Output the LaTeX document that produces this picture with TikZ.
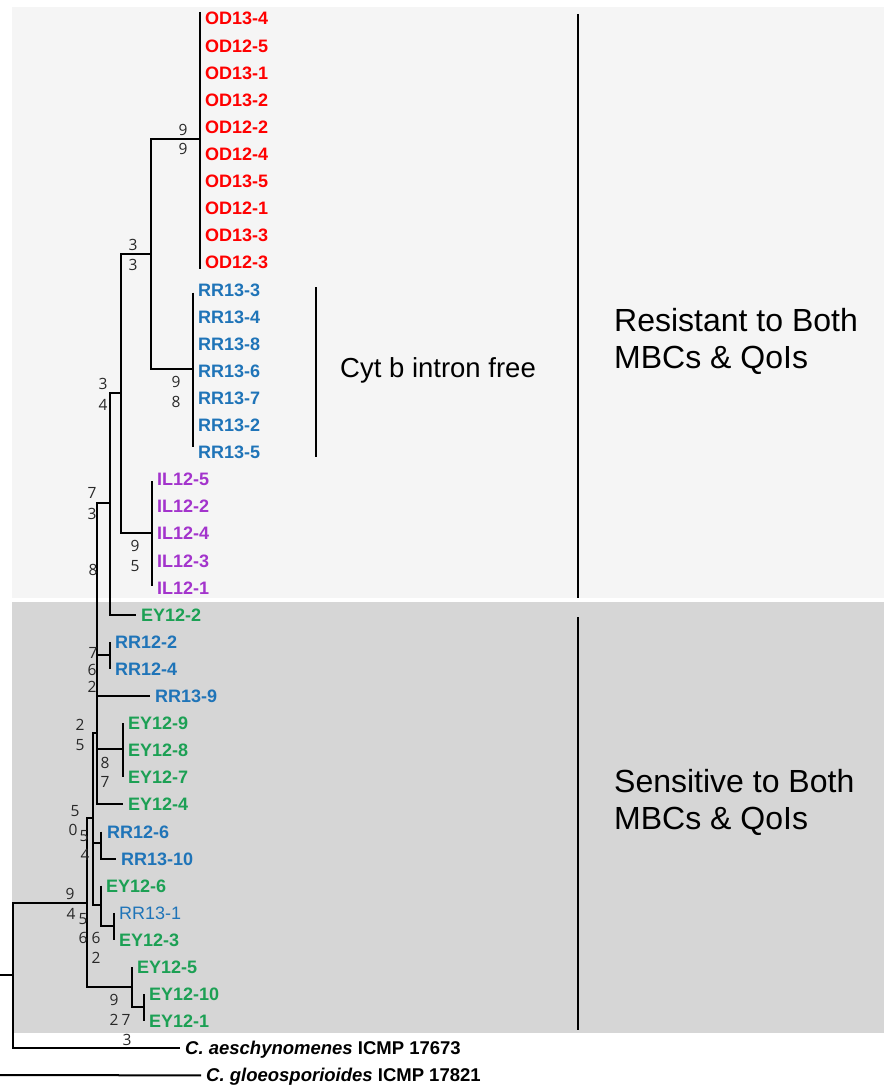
\documentclass[tikz,border=0pt]{standalone}
\usepackage{fontspec}
\setmainfont{Liberation Sans}
\newfontfamily\numfont{Open Sans}
\usepackage{tikz}
\usetikzlibrary{calc}

\definecolor{odred}{RGB}{255,0,0}
\definecolor{rrblue}{RGB}{31,116,184}
\definecolor{ilpurple}{RGB}{163,52,204}
\definecolor{eygreen}{RGB}{28,160,84}
\definecolor{bgtop}{RGB}{245,245,245}
\definecolor{bgbot}{RGB}{214,214,214}
\definecolor{numgray}{RGB}{40,40,40}

\tikzset{
  leaf/.style={anchor=west, inner xsep=5pt, inner ysep=0pt, text height=13pt, text depth=0pt,
    font=\bfseries\fontsize{18}{20}\selectfont},
  num/.style={inner sep=0pt, text=numgray, font=\numfont\fontsize{15.5}{17}\selectfont},
  branch/.style={line width=2pt},
  bar/.style={line width=2.5pt},
  group/.style={anchor=west, inner sep=0pt, align=left, font=\fontsize{32}{37}\selectfont}
}

\begin{document}
\begin{tikzpicture}[x=1pt,y=-1pt]
\useasboundingbox (0,0) rectangle (884,1086);
\fill[bgtop] (12,7) rectangle (884,598);
\fill[bgbot] (12,602) rectangle (884,1033);

% leaves, one row = 27.1
\foreach \n/\r in {OD13-4/0,OD12-5/1,OD13-1/2,OD13-2/3,OD12-2/4,OD12-4/5,OD13-5/6,OD12-1/7,OD13-3/8,OD12-3/9}
  \node[leaf,text=odred] (l\r) at (200,{18.5+27.1*\r}) {\n};
\foreach \n/\r in {RR13-3/10,RR13-4/11,RR13-8/12,RR13-6/13,RR13-7/14,RR13-2/15,RR13-5/16}
  \node[leaf,text=rrblue] (l\r) at (193,{18.5+27.1*\r}) {\n};
\foreach \n/\r in {IL12-5/17,IL12-2/18,IL12-4/19,IL12-3/20,IL12-1/21}
  \node[leaf,text=ilpurple] (l\r) at (152,{18.5+27.1*\r}) {\n};
\foreach \n/\r/\x in {EY12-2/22/136,EY12-9/26/123,EY12-8/27/123,EY12-7/28/123,EY12-4/29/123,
    EY12-6/32/101,EY12-3/34/114,EY12-5/35/132,EY12-10/36/144,EY12-1/37/144}
  \node[leaf,text=eygreen] (l\r) at (\x,{18.5+27.1*\r}) {\n};
\foreach \n/\r/\x in {RR12-2/23/110,RR12-4/24/110,RR13-9/25/150,RR12-6/30/102,RR13-10/31/116}
  \node[leaf,text=rrblue] (l\r) at (\x,{18.5+27.1*\r}) {\n};
\node[leaf,text=rrblue,font=\fontsize{18}{20}\selectfont] (l33) at (114,{18.5+27.1*33}) {RR13-1};
\node[leaf,font=\bfseries\fontsize{18.5}{20}\selectfont] (l38) at (180,{18.5+27.1*38}) {\textit{C. aeschynomenes} ICMP 17673};
\node[leaf,font=\bfseries\fontsize{18.5}{20}\selectfont] (l39) at (201,{18.5+27.1*39}) {\textit{C. gloeosporioides} ICMP 17821};

% internal nodes
\coordinate (nOD) at (200,139);
\coordinate (nRR) at (193,369);
\coordinate (nA) at (151,254);
\coordinate (nIL) at (152,533);
\coordinate (nB) at (121,393);
\coordinate (nC) at (110,503);
\coordinate (nRR12) at (110,655);
\coordinate (nEY7) at (123,749);
\coordinate (nD) at (97,733);
\coordinate (nE) at (93,818);
\coordinate (nRR126) at (101,843);
\coordinate (nEY6) at (101,905);
\coordinate (nRR131) at (114,926);
\coordinate (nF) at (87,903);
\coordinate (nEY5) at (132,987);
\coordinate (nEY10) at (144,1007);
\coordinate (root) at (13,975);
\coordinate (stub) at (0,975);
\coordinate (gstub) at (0,1075);

% branches
\draw[branch] (l0.north west) -- (l9.south west);
\draw[branch] ([yshift=-3pt]l10.west) -- ([yshift=5pt]l16.west);
\draw[branch] ([yshift=-2pt]l17.west) -- ([yshift=2pt]l21.west);
\draw[branch] (nOD) -| (nA) |- (nRR);
\draw[branch] (nA) -| (nB) |- (nIL);
\draw[branch] (nB) -| (nC) |- (l22.west);
\draw[branch] (l23.west) -- (l24.west);
\draw[branch] (l26.west) -- (l28.west);
\draw[branch] (nC) -| (nD) |- (l29.west);
\draw[branch] (nD) |- (nRR12) (nD) |- (l25.west) (nD) |- (nEY7);
\draw[branch] (nD) -| (nE) |- (nEY6);
\draw[branch] (nE) |- (nRR126);
\draw[branch] (nRR126 |- l30.west) -- (nRR126 |- l31.west) -- (l31.west);
\draw[branch] (nEY6 |- l32.west) -- (nEY6 |- nRR131) -- (nRR131);
\draw[branch] (l33.west) -- (l34.west);
\draw[branch] (nE) -| (nF) |- (nEY5);
\draw[branch] (nEY5 |- l35.west) -- (nEY5 |- nEY10) -- (nEY10);
\draw[branch] (l36.west) -- (l37.west);
\draw[branch] (nF) -| (root) |- (l38.west);
\draw[branch] (stub) -- (root);
\draw[branch] (gstub) -- (l39.west);

% support values
\foreach \x/\y/\t [count=\i] in {183/130/9,183/149/9,133/245/3,133/265/3,176/382/9,176/402/8,
    103/384/3,103/405/4,92/493/7,92/514/3,135/546/9,135/566/5,93/570/8,93/653/7,92/670/6,
    92/687/2,80/725/2,80/745/5,105/763/8,105/782/7,75/811/5,73/830/0,84/836/5,85/855/4,
    70/894/9,71/914/4,83/919/5,83/938/6,96/938/6,96/958/2,114/1000/9,114/1020/2,126/1020/7,127/1040/3}
  \node[num] (b\i) at (\x,\y) {\t};

% groups
\draw[bar] (316,287) -- (316,457);
\node[anchor=west,inner sep=0pt,font=\fontsize{27.5}{30}\selectfont] (intron) at (340,370) {Cyt b intron free};
\draw[bar] (578,14) -- (578,598);
\draw[bar] (578,617) -- (578,1030);
\node[group] (res) at (614,341) {Resistant to Both\\MBCs \& QoIs};
\node[group] (sen) at (614,802) {Sensitive to Both\\MBCs \& QoIs};
\end{tikzpicture}
\end{document}
